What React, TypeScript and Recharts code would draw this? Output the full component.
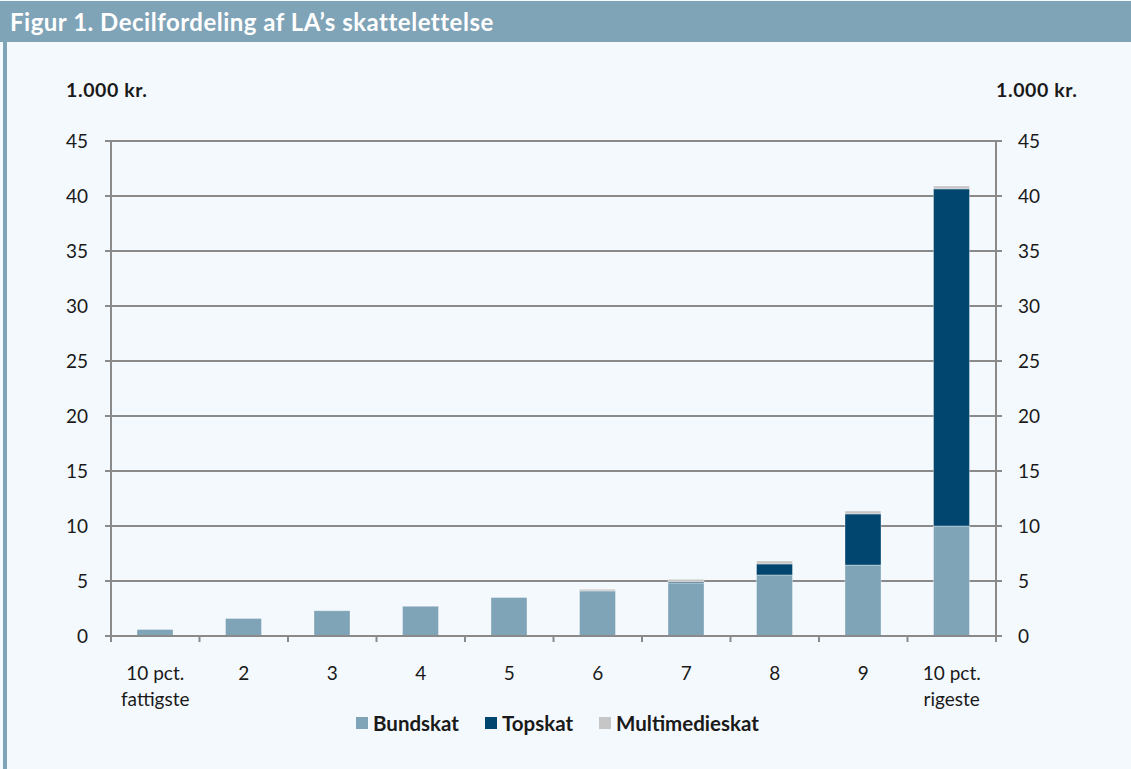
import React from 'react';
import { ComposedChart, Bar, Line, XAxis, YAxis, CartesianGrid } from 'recharts';

const categories = ['10 pct.\nfattigste', '2', '3', '4', '5', '6', '7', '8', '9', '10 pct.\nrigeste'];
const bundskat = [0.6, 1.6, 2.3, 2.7, 3.5, 4.1, 4.8, 5.55, 6.45, 10.0];
const topskat = [0, 0, 0, 0, 0, 0, 0.1, 1.0, 4.65, 30.65];
const multimedieskat = [0, 0, 0, 0, 0, 0.15, 0.25, 0.27, 0.27, 0.27];
const yTicks = [0, 5, 10, 15, 20, 25, 30, 35, 40, 45];

const series = [
  { key: 'Bundskat', color: '#7fa3b7' },
  { key: 'Topskat', color: '#00466e' },
  { key: 'Multimedieskat', color: '#c6c6c6' },
];

const data = categories.map((c, i) => ({
  name: c,
  Bundskat: bundskat[i],
  Topskat: topskat[i],
  Multimedieskat: multimedieskat[i],
}));

const W = 1131;
const H = 769;
const LEFT = 111;
const RIGHT = 996;
const TOP = 141;
const BOTTOM = 636;
const BAND = (RIGHT - LEFT) / categories.length;

const FONT = 'Lato, "Open Sans", sans-serif';
const GRAY = '#8a8a8a';
const TEXT = '#1a1a1a';

const CatTick = (props: any) => {
  const { x, y, payload, index } = props;
  const lines = String(payload.value).split('\n');
  const left = x - BAND / 2;
  return (
    <g>
      <line x1={left} y1={y} x2={left} y2={y + 6} stroke={GRAY} strokeWidth={2} />
      {index === categories.length - 1 && (
        <line x1={x + BAND / 2} y1={y} x2={x + BAND / 2} y2={y + 6} stroke={GRAY} strokeWidth={2} />
      )}
      {lines.map((l, i) => (
        <text key={i} x={x} y={y + 44 + i * 26} textAnchor="middle" fill={TEXT} fontSize={19} fontFamily={FONT}>
          {l}
        </text>
      ))}
    </g>
  );
};

export default function App() {
  return (
    <div style={{ position: 'absolute', left: 0, top: 0, width: W, height: H, background: '#f4f9fd', fontFamily: FONT, overflow: 'hidden' }}>
      {/* title band */}
      <div style={{ position: 'absolute', left: 0, top: 1, width: W, height: 41, background: '#7fa3b7' }}>
        <div style={{ position: 'absolute', left: 10, top: 6, color: '#ffffff', fontWeight: 700, fontSize: 24, letterSpacing: 0.5 }}>
          Figur 1. Decilfordeling af LA’s skattelettelse
        </div>
      </div>
      <div style={{ position: 'absolute', left: 3, top: 42, width: 4, height: H - 42, background: '#7fa3b7' }} />

      <div style={{ position: 'absolute', left: 66, top: 78, fontWeight: 700, fontSize: 19.5, letterSpacing: 0.6, color: TEXT }}>1.000 kr.</div>
      <div style={{ position: 'absolute', left: 996, top: 78, fontWeight: 700, fontSize: 19.5, letterSpacing: 0.6, color: TEXT }}>1.000 kr.</div>

      <div style={{ position: 'absolute', left: 0, top: 0 }}>
        <ComposedChart width={W} height={H} data={data} margin={{ top: TOP, right: 0, bottom: 0, left: 0 }} barSize={36}>
          <CartesianGrid vertical={false} stroke={GRAY} strokeWidth={2} yAxisId="left" />
          <XAxis
            dataKey="name"
            height={H - BOTTOM}
            interval={0}
            tickLine={false}
            tickSize={0}
            tickMargin={0}
            tick={<CatTick />}
            axisLine={{ stroke: GRAY, strokeWidth: 2 }}
          />
          <YAxis
            yAxisId="left"
            width={LEFT}
            domain={[0, 45]}
            ticks={yTicks}
            interval={0}
            axisLine={{ stroke: GRAY, strokeWidth: 2 }}
            tickLine={{ stroke: GRAY, strokeWidth: 2 }}
            tickSize={6}
            tickMargin={17}
            tick={{ fill: TEXT, fontSize: 19, fontFamily: FONT }}
          />
          <YAxis
            yAxisId="right"
            orientation="right"
            width={W - RIGHT}
            domain={[0, 45]}
            ticks={yTicks}
            interval={0}
            axisLine={{ stroke: GRAY, strokeWidth: 2 }}
            tickLine={{ stroke: GRAY, strokeWidth: 2 }}
            tickSize={6}
            tickMargin={16}
            tick={{ fill: TEXT, fontSize: 19, fontFamily: FONT }}
          />
          {series.map((s) => (
            <Bar
              key={s.key}
              dataKey={s.key}
              stackId="a"
              yAxisId="left"
              fill={s.color}
              stroke="#ffffff"
              strokeOpacity={0.35}
              strokeWidth={1}
              isAnimationActive={false}
            />
          ))}
          {/* invisible series so the right axis gets its ticks */}
          <Line
            dataKey="Bundskat"
            yAxisId="right"
            stroke="none"
            dot={false}
            activeDot={false}
            legendType="none"
            isAnimationActive={false}
          />
        </ComposedChart>
      </div>

      {/* legend */}
      <div style={{ position: 'absolute', left: 356, top: 711, display: 'flex', alignItems: 'center', fontWeight: 700, fontSize: 20.5, color: TEXT }}>
        {series.map((s) => (
          <div key={s.key} style={{ display: 'flex', alignItems: 'center', marginRight: 26 }}>
            <div style={{ width: 12, height: 12, background: s.color, marginRight: 5 }} />
            <span>{s.key}</span>
          </div>
        ))}
      </div>
    </div>
  );
}
